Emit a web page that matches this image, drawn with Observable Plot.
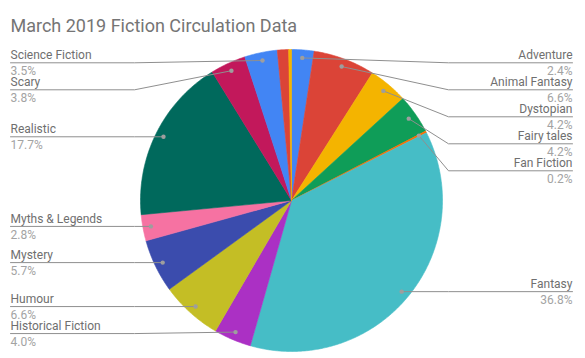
<!DOCTYPE html>
<html>
<head>
<meta charset="utf-8">
<script src="https://cdn.jsdelivr.net/npm/d3@7"></script>
<script src="https://cdn.jsdelivr.net/npm/@observablehq/plot@0.6"></script>
<style>
  html, body { margin: 0; padding: 0; background: #fff; }
  #chart svg { display: block; }
</style>
</head>
<body>
<div id="chart"></div>
<script>
// ---- data ----
const title = "March 2019 Fiction Circulation Data";
const categories = ["Adventure", "Animal Fantasy", "Dystopian", "Fairy tales", "Fan Fiction", "Fantasy",
  "Historical Fiction", "Humour", "Mystery", "Myths & Legends", "Realistic", "Scary", "Science Fiction",
  "Unlabelled 1", "Unlabelled 2"];
const shares = [2.4, 6.6, 4.2, 4.2, 0.2, 36.8, 4.0, 6.6, 5.7, 2.8, 17.7, 3.8, 3.5, 1.2, 0.3];
const showLabel = [true, true, true, true, true, true, true, true, true, true, true, true, true, false, false];
const colors = ["#4285f4", "#db4437", "#f4b400", "#0f9d58", "#ff6d00", "#46bdc6", "#ab30c4", "#c4be25",
  "#3b4cad", "#f672a2", "#00695c", "#c2185b", "#4285f4", "#db4437", "#f4b400"];

// ---- layout constants ----
const W = 585, H = 358;
const CX = 291, CY = 200;      // pie centre in px
const R = 151, RDOT = 143;
const ELBOW = 157, LABEL_X = 281, LABEL_GAP = 27, LABEL_TOP = 62.3;

const total = d3.sum(shares);
const arcs = d3.pie().sort(null).value(d => d)(shares);

// slice polygons (data coords: y up, centre at 0,0)
const slicePts = [];
arcs.forEach((a, i) => {
  const n = Math.max(2, Math.ceil((a.endAngle - a.startAngle) / (Math.PI / 360)));
  slicePts.push({key: i, x: 0, y: 0});
  for (let k = 0; k <= n; k++) {
    const t = a.startAngle + (a.endAngle - a.startAngle) * k / n;
    slicePts.push({key: i, x: R * Math.sin(t), y: R * Math.cos(t)});
  }
  slicePts.push({key: i, x: 0, y: 0});
});

// labels
const labels = arcs.map((a, i) => {
  const mid = (a.startAngle + a.endAngle) / 2;
  return {
    i, name: categories[i],
    pct: (shares[i] / total * 100).toFixed(1) + "%",
    side: mid < Math.PI ? 1 : -1,
    dx: RDOT * Math.sin(mid), dy: RDOT * Math.cos(mid)
  };
}).filter(d => showLabel[d.i]);
for (const side of [1, -1]) {
  const group = labels.filter(d => d.side === side).sort((a, b) => b.dy - a.dy);
  let prev = -Infinity;
  for (const d of group) {
    const py = Math.max(CY - d.dy, prev + LABEL_GAP, LABEL_TOP);
    d.ly = CY - py;
    prev = py;
  }
}
const right = labels.filter(d => d.side > 0);
const left = labels.filter(d => d.side < 0);
const leaderPts = labels.flatMap(d => [
  {key: d.i, x: d.dx, y: d.dy},
  {key: d.i, x: d.side * ELBOW, y: d.ly},
  {key: d.i, x: d.side * LABEL_X, y: d.ly}
]);

const labelMarks = (data, anchor) => [
  Plot.text(data, {x: d => d.side * LABEL_X, y: "ly", text: "name",
    textAnchor: anchor, lineAnchor: "middle", dy: -7.2, fill: "#6f6f6f", fontSize: 12}),
  Plot.text(data, {x: d => d.side * LABEL_X, y: "ly", text: "pct",
    textAnchor: anchor, lineAnchor: "middle", dy: 8.4, fill: "#a3a3a3", fontSize: 12})
];

const chart = Plot.plot({
  width: W, height: H, margin: 0,
  x: {domain: [-CX, W - CX], axis: null},
  y: {domain: [CY - H, CY], axis: null},
  color: {domain: d3.range(categories.length), range: colors, type: "ordinal"},
  style: {fontFamily: "Roboto, sans-serif", fontSize: "12px", background: "#fff"},
  marks: [
    Plot.line(slicePts, {x: "x", y: "y", z: "key", fill: "key", stroke: "key", strokeWidth: 0.6, curve: "linear"}),
    Plot.line(leaderPts, {x: "x", y: "y", z: "key", stroke: "#8f8f8f", strokeWidth: 1}),
    Plot.dot(labels, {x: "dx", y: "dy", r: 2.2, fill: "#9e9e9e", stroke: "none"}),
    ...labelMarks(right, "end"),
    ...labelMarks(left, "start"),
    Plot.text([title], {frameAnchor: "top-left", dx: 10, dy: 19, lineAnchor: "top", fontSize: 18, fill: "#757575"})
  ]
});
document.getElementById("chart").append(chart);
</script>
</body>
</html>
